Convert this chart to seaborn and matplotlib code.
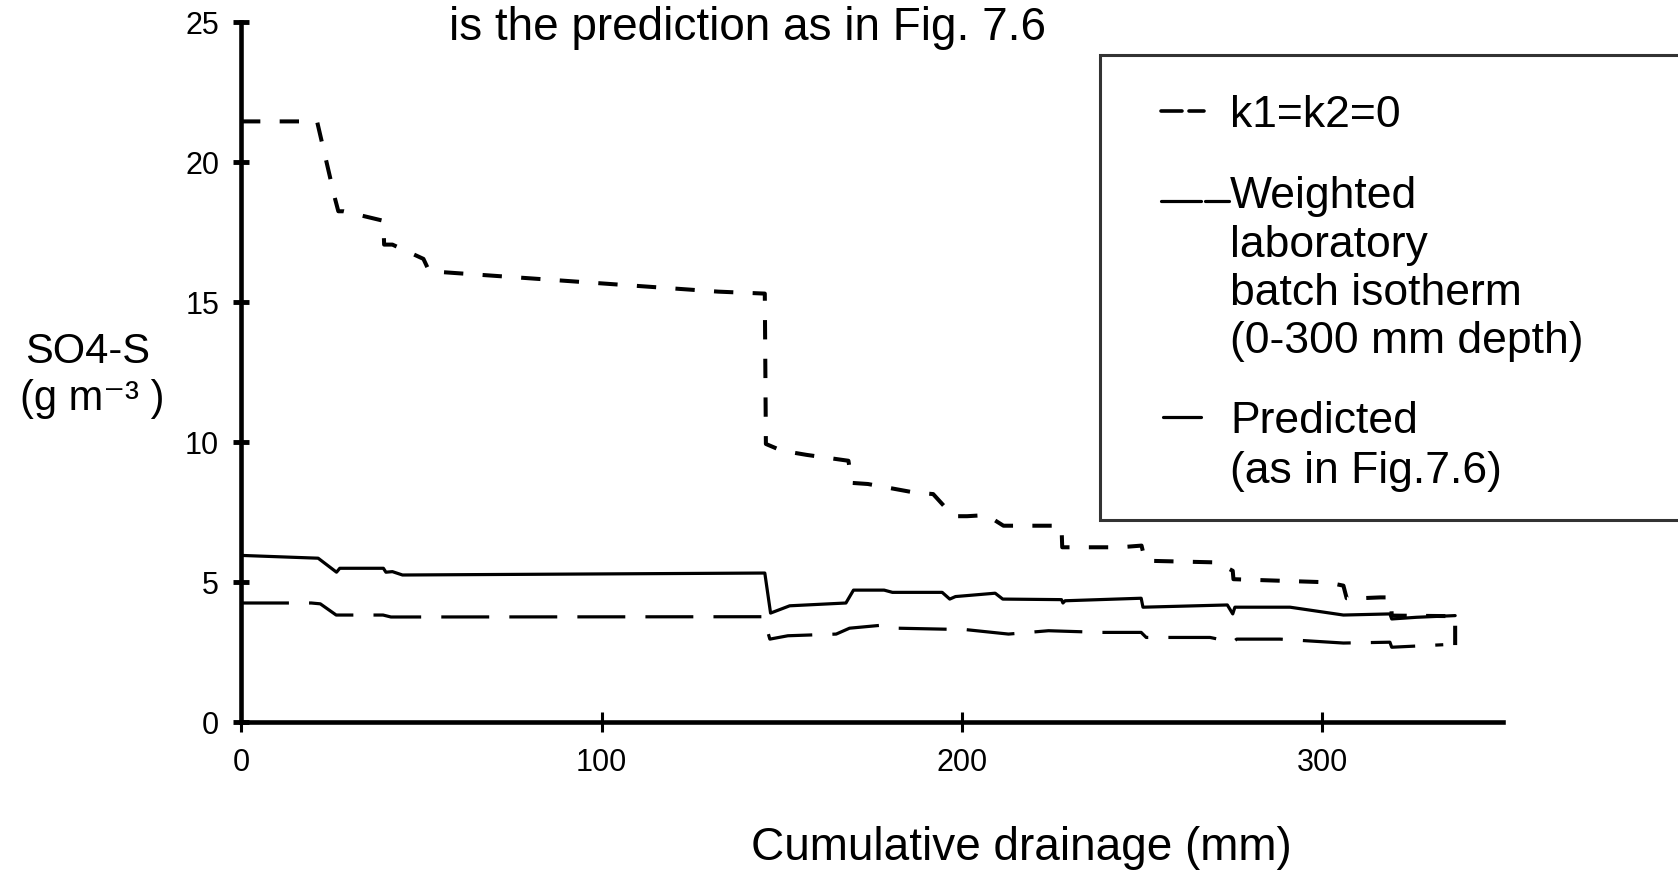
import pandas as pd
import matplotlib
matplotlib.use("Agg")
import matplotlib.pyplot as plt
import seaborn as sns
from matplotlib.lines import Line2D
from matplotlib.patches import Rectangle

# values: cumulative drainage (mm) vs SO4-S (g m-3)
k0_x = [0, 21.1, 26.1, 27.0, 28.5, 39.5, 39.7, 42.0, 50.6, 52.2, 132.4, 145.3, 145.6,
        150.0, 156.9, 168.5, 169.4, 173.9, 186.6, 192.0, 197.6, 201.4, 206.8, 211.5,
        227.6, 227.8, 243.8, 249.8, 250.8, 270.6, 275.1, 275.3, 301.2, 305.8, 306.7,
        310.4, 316.0, 319.0, 319.2, 336.8, 336.8]
k0_y = [21.45, 21.45, 18.68, 18.24, 18.24, 17.9, 17.05, 17.05, 16.54, 16.1, 15.37, 15.3, 9.93,
        9.69, 9.54, 9.33, 8.54, 8.5, 8.2, 8.14, 7.35, 7.35, 7.39, 7.01,
        7.01, 6.24, 6.24, 6.3, 5.76, 5.7, 5.4, 5.1, 4.99, 4.87, 4.42,
        4.42, 4.45, 4.45, 3.8, 3.78, 2.55]

weighted_x = [0, 19.5, 22.0, 26.4, 39.4, 41.6, 144.9, 146.7, 151.7, 165.1, 168.8, 178.0,
              182.1, 201.0, 212.9, 224.0, 238.7, 249.7, 251.1, 268.8, 275.1, 276.2,
              288.2, 305.8, 318.7, 319.2, 333.5]
weighted_y = [4.25, 4.25, 4.22, 3.82, 3.82, 3.75, 3.76, 2.96, 3.08, 3.14, 3.35, 3.46,
              3.35, 3.3, 3.14, 3.26, 3.2, 3.2, 3.02, 3.02, 2.85, 2.96,
              2.96, 2.82, 2.85, 2.67, 2.76]

pred_x = [0, 21.4, 26.5, 27.4, 39.5, 40.2, 42.0, 44.8, 145.3, 146.9, 152.2, 167.8, 169.9,
          178.4, 180.7, 194.5, 196.6, 198.2, 209.2, 211.3, 227.6, 228.0, 228.6, 249.7,
          250.2, 273.6, 275.1, 275.7, 291.0, 305.8, 318.7, 319.2, 326.1, 336.8]
pred_y = [5.95, 5.85, 5.35, 5.49, 5.49, 5.35, 5.37, 5.25, 5.32, 3.89, 4.15, 4.25, 4.71,
          4.71, 4.63, 4.63, 4.39, 4.48, 4.6, 4.39, 4.37, 4.25, 4.33, 4.42,
          4.1, 4.18, 3.86, 4.1, 4.1, 3.82, 3.86, 3.68, 3.74, 3.8]

x_ticks = [0, 100, 200, 300]
y_ticks = [0, 5, 10, 15, 20, 25]

sns.set_style("ticks")
plt.rcParams["font.family"] = ["Liberation Sans", "DejaVu Sans"]
plt.rcParams["text.color"] = "black"
plt.rcParams["xtick.color"] = "black"
plt.rcParams["ytick.color"] = "black"

W, H = 1678, 878
fig = plt.figure(figsize=(W / 100, H / 100), dpi=100)
ax = fig.add_axes([241 / W, 155 / H, 1261.75 / W, 700 / H])

k0 = pd.DataFrame({"x": k0_x, "y": k0_y})
wt = pd.DataFrame({"x": weighted_x, "y": weighted_y})
pr = pd.DataFrame({"x": pred_x, "y": pred_y})

sns.lineplot(data=k0, x="x", y="y", ax=ax, estimator=None, sort=False,
             color="black", lw=2.9, linestyle=(0, (4.8, 4.8)))
sns.lineplot(data=wt, x="x", y="y", ax=ax, estimator=None, sort=False,
             color="black", lw=2.3, linestyle=(0, (15, 6.3)))
sns.lineplot(data=pr, x="x", y="y", ax=ax, estimator=None, sort=False,
             color="black", lw=2.3)

ax.set_xlim(0, 350)
ax.set_ylim(0, 25)
ax.set_xticks(x_ticks)
ax.set_yticks(y_ticks)
ax.set_xlabel("")
ax.set_ylabel("")
sns.despine(ax=ax)
for s in ["left", "bottom"]:
    ax.spines[s].set_linewidth(3.3)
    ax.spines[s].set_color("black")
ax.tick_params(axis="y", left=True, direction="inout", length=12, width=3.5, pad=9.7,
               labelsize=22, labelcolor="black")
ax.tick_params(axis="x", bottom=True, direction="inout", length=14, width=2.2, pad=11,
               labelsize=22, labelcolor="black")

# text around the plot
fig.text(449 / W, 1 - 40 / H, "is the prediction as in Fig. 7.6", fontsize=33,
         ha="left", va="baseline")
fig.text(88 / W, 1 - 363 / H, "SO4-S", fontsize=30, ha="center", va="baseline")
fig.text(92 / W, 1 - 410 / H, "(g m\u207b\u00b3 )", fontsize=30, ha="center", va="baseline")
fig.text(1021 / W, 1 - 860 / H, "Cumulative drainage (mm)", fontsize=33,
         ha="center", va="baseline")

# legend box (runs off the right edge like the scan)
fig.patches.append(Rectangle((1100 / W, 1 - 521 / H), 0.5, 465 / H,
                             transform=fig.transFigure, facecolor="white",
                             edgecolor="#333333", lw=2.2, zorder=5))

def fline(x0, x1, y, **kw):
    fig.lines.append(Line2D([x0 / W, x1 / W], [1 - y / H, 1 - y / H],
                            transform=fig.transFigure, color="black", zorder=6, **kw))

fline(1161, 1182, 112, lw=2.6)
fline(1189, 1204, 112, lw=2.6)
fline(1161, 1201, 202, lw=2.3)
fline(1205, 1229, 202, lw=2.3)
fline(1163, 1201, 418, lw=2.3)

leg_lines = [("k1=k2=0", 127), ("Weighted", 208), ("laboratory", 257),
             ("batch isotherm", 305), ("(0-300 mm depth)", 353),
             ("Predicted", 433), ("(as in Fig.7.6)", 483)]
for txt, yb in leg_lines:
    fig.text(1230 / W, 1 - yb / H, txt, fontsize=32, ha="left", va="baseline", zorder=6)

fig.savefig("out.png", dpi=100)
